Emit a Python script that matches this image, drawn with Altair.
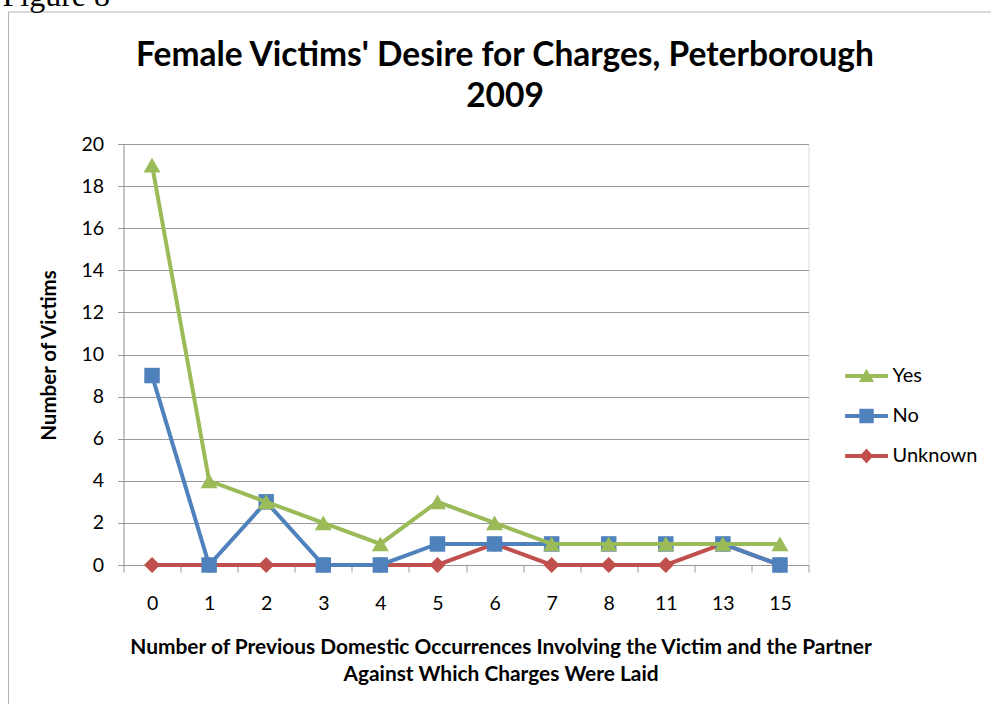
import altair as alt
import pandas as pd

occurrences = [0, 1, 2, 3, 4, 5, 6, 7, 8, 11, 13, 15]
yes_vals = [19, 4, 3, 2, 1, 3, 2, 1, 1, 1, 1, 1]
no_vals = [9, 0, 3, 0, 0, 1, 1, 1, 1, 1, 1, 0]
unknown_vals = [0, 0, 0, 0, 0, 0, 1, 0, 0, 0, 1, 0]
series = ["Yes", "No", "Unknown"]
colors = ["#9BBB59", "#4F81BD", "#C0504D"]
y_ticks = [0, 2, 4, 6, 8, 10, 12, 14, 16, 18, 20]

title_text = "Female Victims' Desire for Charges, Peterborough\n2009"
x_title = ["Number of Previous Domestic Occurrences Involving the Victim and the Partner",
           "Against Which Charges Were Laid"]
y_title = "Number of Victims"
figure_label = "Figure 8"

rows = []
for name, vals in zip(series, [yes_vals, no_vals, unknown_vals]):
    for o, v in zip(occurrences, vals):
        rows.append({"occ": o, "count": v, "series": name})
df = pd.DataFrame(rows)

FONT = "Lato"
GRID = "#9a9a9a"

# legend symbols: a line segment with the series marker on it
line_path = "M-1.07,-0.1H1.07V0.1H-1.07Z"
legend_paths = [
    line_path + "M0,-0.36L0.38,0.3H-0.38Z",
    line_path + "M-0.36,-0.36H0.36V0.36H-0.36Z",
    line_path + "M0,-0.38L0.34,0L0,0.38L-0.34,0Z",
]

legend = alt.Legend(
    title=None, orient="none", legendX=723, legendY=212, padding=0,
    symbolSize=1600, rowPadding=10, labelOffset=6, labelFont=FONT,
    labelFontSize=20, labelColor="#000000", symbolOpacity=1,
    symbolStrokeWidth=0,
)

x_enc = alt.X(
    "occ:O", sort=occurrences,
    scale=alt.Scale(type="band", paddingInner=0, paddingOuter=0),
    bandPosition=0.5,
    axis=alt.Axis(
        labelAngle=0, tickBand="extent", grid=False, domainColor=GRID,
        tickColor=GRID, tickSize=7, labelPadding=22, labelFont=FONT,
        labelFontSize=19.5, labelColor="#000000",
        title=x_title, titleFont=FONT, titleFontWeight="bold", titleFontSize=20.9,
        titleLineHeight=27, titleX=377, titleY=71, titleAlign="center",
        titleBaseline="top", titleColor="#000000",
    ),
)
y_enc = alt.Y(
    "count:Q", scale=alt.Scale(domain=[0, 20], nice=False),
    axis=alt.Axis(
        values=y_ticks, grid=True, gridColor=GRID, domainColor=GRID,
        tickColor=GRID, tickSize=6, labelPadding=14, labelFont=FONT,
        labelFontSize=19.5, labelColor="#000000",
        title=y_title, titleFont=FONT, titleFontWeight="bold", titleFontSize=20.5,
        titleAngle=270, titleX=-74, titleY=211, titleAlign="center",
        titleBaseline="middle", titleColor="#000000",
    ),
)
color_scale = alt.Scale(domain=series, range=colors)
color_plain = alt.Color("series:N", scale=color_scale, legend=None)
color_leg = alt.Color("series:N", scale=color_scale, legend=legend)
shape_leg = alt.Shape("series:N", scale=alt.Scale(domain=series, range=legend_paths), legend=legend)

frame = alt.Chart(pd.DataFrame({"a": [1]})).mark_rect(
    fill="transparent", stroke="#b5b5b5", strokeWidth=1
).encode(x=alt.value(-115), x2=alt.value(900), y=alt.value(-132), y2=alt.value(600))

fig_label = alt.Chart(pd.DataFrame({"t": [figure_label]})).mark_text(
    font="Liberation Serif", fontSize=32, align="left", baseline="alphabetic", color="#000000"
).encode(text="t:N", x=alt.value(-121), y=alt.value(-138))

title = alt.Chart(pd.DataFrame({"t": [title_text]})).mark_text(
    font=FONT, fontSize=33.5, fontWeight="bold", align="center", baseline="alphabetic",
    lineBreak="\n", lineHeight=41, color="#000000"
).encode(text="t:N", x=alt.value(381.5), y=alt.value(-78))

# invisible layer carrying the legend (first, so its legend settings win the merge)
legend_layer = alt.Chart(df).mark_point(filled=True, opacity=0, size=10).encode(
    x=x_enc, y=y_enc, color=color_leg, shape=shape_leg)

layers = [frame, fig_label, title, legend_layer]
for name, shape, size in zip(["Unknown", "No", "Yes"], ["diamond", "square", "triangle-up"],
                             [260, 240, 290]):
    base = alt.Chart(df).transform_filter(alt.datum.series == name)
    layers.append(base.mark_line(strokeWidth=4).encode(x=x_enc, y=y_enc, color=color_plain))
    layers.append(base.mark_point(shape=shape, filled=True, opacity=1, size=size).encode(
        x=x_enc, y=y_enc, color=color_plain))

chart = alt.layer(*layers).properties(
    width=685, height=421,
    autosize=alt.AutoSizeParams(type="none"),
    padding={"left": 123.5, "top": 144, "right": 182.5, "bottom": 139},
).configure_view(stroke="transparent").configure(background="white")

chart.save("out.html", embed_options={"renderer": "svg", "actions": False})
